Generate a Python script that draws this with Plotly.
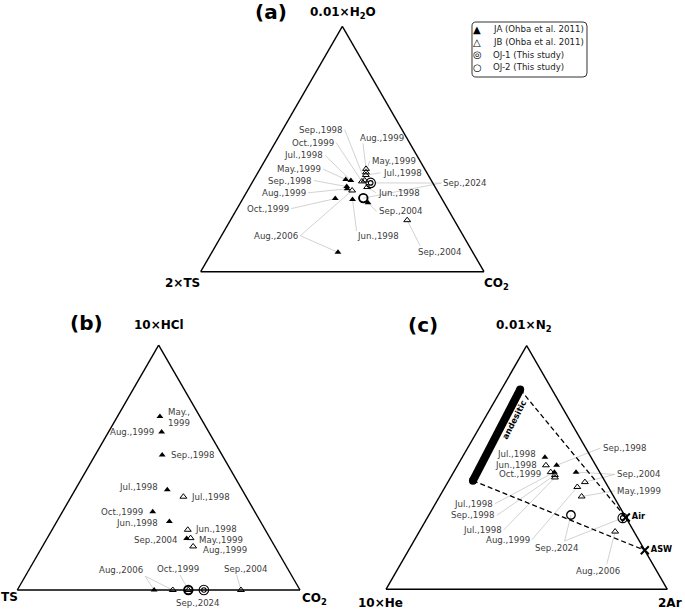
import math
import plotly.graph_objects as go

# ---------------- data: normalised ternary compositions (top, bottom-left, bottom-right) ----------------
# Panel (a): (0.01xH2O, 2xTS, CO2)
JA_A = [(0.376, 0.300, 0.324), (0.372, 0.284, 0.344), (0.347, 0.311, 0.342), (0.338, 0.314, 0.348),
        (0.298, 0.376, 0.326), (0.294, 0.317, 0.389), (0.281, 0.269, 0.450), (0.079, 0.476, 0.445)]
JB_A = [(0.419, 0.207, 0.374), (0.405, 0.214, 0.381), (0.394, 0.220, 0.386), (0.368, 0.247, 0.385),
        (0.372, 0.235, 0.393), (0.345, 0.240, 0.415), (0.331, 0.300, 0.369), (0.210, 0.166, 0.624)]
OJ1_A = [(0.362, 0.219, 0.419)]
OJ2_A = [(0.300, 0.276, 0.424)]

# Panel (b): (10xHCl, 2xTS, CO2)
JA_B = [(0.709, 0.141, 0.150), (0.645, 0.167, 0.188), (0.551, 0.212, 0.237), (0.409, 0.265, 0.326),
        (0.320, 0.361, 0.319), (0.280, 0.322, 0.398), (0.210, 0.296, 0.494), (0.000, 0.516, 0.484)]
JB_B = [(0.381, 0.222, 0.397), (0.246, 0.274, 0.480), (0.212, 0.281, 0.507), (0.178, 0.289, 0.533),
        (0.000, 0.450, 0.550), (0.000, 0.395, 0.605), (0.000, 0.209, 0.791)]
OJ1_B = [(0.000, 0.340, 0.660)]
OJ2_B = [(0.000, 0.395, 0.605)]

# Panel (c): (0.01xN2, 10xHe, 2Ar)
JA_C = [(0.542, 0.164, 0.294), (0.509, 0.139, 0.352), (0.481, 0.161, 0.358), (0.481, 0.084, 0.435)]
JB_C = [(0.509, 0.177, 0.314), (0.481, 0.174, 0.345), (0.469, 0.165, 0.366), (0.459, 0.170, 0.371),
        (0.440, 0.073, 0.487), (0.420, 0.110, 0.470), (0.381, 0.114, 0.505), (0.237, 0.067, 0.696)]
OJ1_C = [(0.293, 0.012, 0.695)]
OJ2_C = [(0.305, 0.190, 0.505)]
AIR = [(0.295, 0.000, 0.705)]
ASW = [(0.160, 0.000, 0.840)]
ANDESITIC = [(0.820, 0.113, 0.067), (0.446, 0.468, 0.086)]

SERIES_NAMES = ["JA (Ohba et al. 2011)", "JB (Ohba et al. 2011)", "OJ-1 (This study)", "OJ-2 (This study)"]
LEGEND_SYMBOLS = ["\u25B2", "\u25B3", "\u25CE", "\u25CB"]

# sample labels: text, targets, offset of text anchor from first target (px), side, leader start
LABELS_A = [
    ("Sep.,1998", [("JB", 4)], -22.0, -50.7, "left", "auto"),
    ("Oct.,1999", [("JB", 3)], -27.7, -38.7, "left", "auto"),
    ("Jul.,1998", [("JA", 1)], -27.7, -25.0, "left", "auto"),
    ("May.,1999", [("JA", 0)], -24.7, -10.3, "left", "auto"),
    ("Sep.,1998", [("JA", 2)], -34.7, -6.0, "left", "auto"),
    ("Aug.,1999", [("JA", 3)], -41.0, 4.0, "left", "auto"),
    ("Oct.,1999", [("JA", 4)], -46.0, 10.0, "left", "auto"),
    ("Aug.,2006", [("JA", 7), ("JB", 6)], -39.7, -16.6, "left", "auto"),
    ("Aug.,1999", [("JB", 0)], -6.0, -30.6, "right", (3, 5)),
    ("May.,1999", [("JB", 1)], 5.7, -11.4, "right", "auto"),
    ("Jul.,1998", [("JB", 2)], 16.7, -2.2, "right", "auto"),
    ("Sep.,2024", [("OJ1", 0), ("OJ2", 0)], 72.6, 0.2, "right", "auto"),
    ("Jun.,1998", [("JB", 5)], 10.7, 5.6, "right", "auto"),
    ("Sep.,2004", [("JA", 6)], 10.7, 8.7, "right", "auto"),
    ("Jun.,1998", [("JA", 5)], 4.0, 36.4, "right", (0, -5)),
    ("Sep.,2004", [("JB", 7)], 11.0, 31.7, "right", (2, -6)),
]
LABELS_B = [
    ("May.,<br>1999", [("JA", 0)], 8.3, 1.0, "right", None),
    ("Aug.,1999", [("JA", 1)], -7.7, 0.0, "left", None),
    ("Sep.,1998", [("JA", 2)], 8.4, 0.0, "right", None),
    ("Jul.,1998", [("JA", 3)], -9.3, -3.0, "left", None),
    ("Jul.,1998", [("JB", 0)], 8.0, 0.0, "right", None),
    ("Oct.,1999", [("JA", 4)], -10.0, 0.7, "left", None),
    ("Jun.,1998", [("JA", 5)], -11.3, 1.7, "left", None),
    ("Jun.,1998", [("JB", 1)], 7.3, -0.3, "right", None),
    ("Sep.,2004", [("JA", 6)], -8.4, 1.7, "left", None),
    ("May.,1999", [("JB", 2)], 8.6, 2.3, "right", None),
    ("Aug.,1999", [("JB", 3)], 10.0, 4.0, "right", None),
    ("Aug.,2006", [("JA", 7), ("JB", 4)], -33.0, -20.5, "center", (24, 6.7)),
    ("Oct.,1999", [("JB", 5)], -10.8, -21.0, "center", (2.5, 6)),
    ("Sep.,2004", [("JB", 6)], 4.8, -21.0, "center", (-9, 6)),
    ("Sep.,2024", [("OJ2", 0)], 9.7, 13.0, "center", None),
]
LABELS_C = [
    ("Jul.,1998", [("JA", 0)], -9.0, -3.7, "left", None),
    ("Jun.,1998", [("JB", 0)], -8.7, -0.7, "left", None),
    ("Oct.,1999", [("JB", 1)], -9.7, 2.3, "left", None),
    ("Sep.,1998", [("JA", 1)], 46.0, -17.3, "right", "auto"),
    ("Sep.,2004", [("JA", 3), ("JB", 4)], 40.7, 2.3, "right", "auto"),
    ("May.,1999", [("JB", 6)], 35.0, -5.7, "right", "auto"),
    ("Jul.,1998", [("JA", 2)], -61.6, 31.7, "left", "auto"),
    ("Sep.,1998", [("JB", 2)], -60.0, 40.3, "left", "auto"),
    ("Jul.,1998", [("JB", 3)], -53.3, 52.5, "left", "auto"),
    ("Aug.,1999", [("JB", 5)], -47.3, 52.7, "left", "auto"),
    ("Sep.,2024", [("OJ2", 0), ("OJ1", 0)], -14.3, 33.0, "center", (8, -7)),
    ("Aug.,2006", [("JB", 7)], -16.7, 39.0, "center", (8.4, -6.7)),
]

# ---------------- layout geometry ----------------
FIG_W, FIG_H = 685, 609
FONT = "DejaVu Sans"
LABEL_COLOR = "#404040"
LEADER_COLOR = "#c6c6c6"
SQ = math.sqrt(3) / 2

PANELS = [
    dict(key="ternary", data=dict(JA=JA_A, JB=JB_A, OJ1=OJ1_A, OJ2=OJ2_A), labels=LABELS_A,
         left=200.7, base=271.7, side=283.3, oj2w=1.9),
    dict(key="ternary2", data=dict(JA=JA_B, JB=JB_B, OJ1=OJ1_B, OJ2=OJ2_B), labels=LABELS_B,
         left=17.3, base=590.0, side=282.7, oj2w=1.9),
    dict(key="ternary3", data=dict(JA=JA_C, JB=JB_C, OJ1=OJ1_C, OJ2=OJ2_C), labels=LABELS_C,
         left=386.0, base=589.3, side=281.3, oj2w=1.3),
]


def cols(points):
    return [p[0] for p in points], [p[1] for p in points], [p[2] for p in points]


def domain(p):
    h = p["side"] * SQ
    cy = p["base"] - h / 2
    pad = 12
    x = [p["left"] / FIG_W, (p["left"] + p["side"]) / FIG_W]
    y = [1 - (cy + h / 2 + pad) / FIG_H, 1 - (cy - h / 2 - pad) / FIG_H]
    return x, y


def tern_px(p, pan):
    """pixel position of a composition inside the panel's ternary subplot (same geometry as its domain)"""
    a, b, c = p
    s = a + b + c
    a, c = a / s, c / s
    return pan["left"] + pan["side"] * (c + a / 2), pan["base"] - pan["side"] * SQ * a


def P(x, y):
    return x / FIG_W, 1 - y / FIG_H


annotations, shapes = [], []


def note(text, x, y, size, xanchor="center", bold=True, color="black", angle=0, align="center"):
    px, py = P(x, y)
    annotations.append(dict(text="<b>%s</b>" % text if bold else text, x=px, y=py, xref="paper", yref="paper",
                            xanchor=xanchor, yanchor="middle", showarrow=False, borderpad=0, borderwidth=0,
                            textangle=angle, align=align, font=dict(family=FONT, size=size, color=color)))


fig = go.Figure()
ANCHOR = {"left": "right", "right": "left", "center": "center"}

for pan in PANELS:
    sub, data = pan["key"], pan["data"]

    # sample labels with leader lines (annotation layer)
    for text, targets, dx, dy, where, lead in pan["labels"]:
        ser0, i0 = targets[0]
        tx, ty = tern_px(data[ser0][i0], pan)
        ax_, ay_ = tx + dx, ty + dy
        note(text, ax_, ay_, 8.6, ANCHOR[where], bold=False, color=LABEL_COLOR, align="left")
        if lead is None:
            continue
        lx, ly = ((2, 0) if where == "left" else (-2, 0)) if lead == "auto" else lead
        x0, y0 = P(ax_ + lx, ay_ + ly)
        for ser, idx in targets:
            x1, y1 = P(*tern_px(data[ser][idx], pan))
            shapes.append(dict(type="line", xref="paper", yref="paper", x0=x0, y0=y0, x1=x1, y1=y1,
                               layer="below", line=dict(color=LEADER_COLOR, width=0.8)))

    if sub == "ternary3":
        da_, db_, dc_ = [], [], []
        for end, ref in ((ANDESITIC[0], AIR[0]), (ANDESITIC[1], ASW[0])):
            da_ += [end[0], ref[0], None]; db_ += [end[1], ref[1], None]; dc_ += [end[2], ref[2], None]
        fig.add_trace(go.Scatterternary(a=da_, b=db_, c=dc_, mode="lines", subplot=sub, showlegend=False,
                                        line=dict(color="black", width=1.3, dash="5px,3px"), hoverinfo="skip"))
        aa, ab, ac = cols(ANDESITIC)
        fig.add_trace(go.Scatterternary(a=aa, b=ab, c=ac, mode="lines+markers", subplot=sub, showlegend=False,
                                        line=dict(color="black", width=8),
                                        marker=dict(symbol="circle", size=8, color="black"),
                                        cliponaxis=False, hoverinfo="skip"))

    a, b, c = cols(data["JA"])
    fig.add_trace(go.Scatterternary(a=a, b=b, c=c, mode="markers", subplot=sub, name=SERIES_NAMES[0],
                                    showlegend=False, cliponaxis=False,
                                    marker=dict(symbol="triangle-up", size=6, color="black")))
    a, b, c = cols(data["JB"])
    fig.add_trace(go.Scatterternary(a=a, b=b, c=c, mode="markers", subplot=sub, name=SERIES_NAMES[1],
                                    showlegend=False, cliponaxis=False,
                                    marker=dict(symbol="triangle-up-open", size=6, color="black",
                                                line=dict(width=1))))
    a, b, c = cols(data["OJ1"])
    for sz in (9.5, 4.5):
        fig.add_trace(go.Scatterternary(a=a, b=b, c=c, mode="markers", subplot=sub, name=SERIES_NAMES[2],
                                        showlegend=False, cliponaxis=False,
                                        marker=dict(symbol="circle-open", size=sz, color="black",
                                                    line=dict(width=1.1))))
    a, b, c = cols(data["OJ2"])
    fig.add_trace(go.Scatterternary(a=a, b=b, c=c, mode="markers", subplot=sub, name=SERIES_NAMES[3],
                                    showlegend=False, cliponaxis=False,
                                    marker=dict(symbol="circle-open", size=8.5, color="black",
                                                line=dict(width=pan["oj2w"]))))

    if sub == "ternary3":
        for ref, name in ((AIR, "Air"), (ASW, "ASW")):
            a, b, c = cols(ref)
            fig.add_trace(go.Scatterternary(a=a, b=b, c=c, mode="markers+text", subplot=sub, showlegend=False,
                                            text=["<b>%s</b>" % name], textposition="middle right",
                                            textfont=dict(family=FONT, size=8.2, color="black"),
                                            cliponaxis=False, hoverinfo="skip",
                                            marker=dict(symbol="x-thin", size=8, color="black",
                                                        line=dict(width=2, color="black"))))

axis = dict(showline=True, linecolor="black", linewidth=1.4, showgrid=False, showticklabels=False,
            ticks="", min=0, title=dict(text=""))
layout_tern = {}
for pan in PANELS:
    dx, dy = domain(pan)
    layout_tern[pan["key"]] = dict(domain=dict(x=dx, y=dy), sum=1, bgcolor="rgba(0,0,0,0)",
                                   aaxis=axis, baxis=axis, caxis=axis)

# panel titles and vertex labels
note("(a)", 271, 12, 20)
note("0.01×H<sub>2</sub>O", 342.5, 12.5, 12)
note("2×TS", 200, 283, 12, "right")
note("CO<sub>2</sub>", 484, 284, 12, "left")
note("(b)", 86.7, 323, 20)
note("10×HCl", 159, 325, 12)
note("TS", 0.5, 597, 12, "left")
note("CO<sub>2</sub>", 301.5, 598.5, 12, "left")
note("(c)", 423.3, 325, 20)
note("0.01×N<sub>2</sub>", 524, 325.5, 12)
note("10×He", 380, 603, 12)
note("2Ar", 682, 603, 12, "right")
note("andesitic", 514, 420, 8.3, angle=-62.7)

# legend (text keys inside a rounded box)
LEG_ROWS = [29.3, 42.3, 54.7, 67.3]
for sym, name, yy in zip(LEGEND_SYMBOLS, SERIES_NAMES, LEG_ROWS):
    note(sym, 477.3, yy, 10, "center", bold=False)
    note(name, 492.5, yy, 8.6, "left", bold=False, color="#222222")


def rounded_rect(x0, y0, x1, y1, r):
    X0, Y0 = P(x0, y0)
    X1, Y1 = P(x1, y1)
    rx, ry = r / FIG_W, r / FIG_H
    return ("M %f,%f L %f,%f Q %f,%f %f,%f L %f,%f Q %f,%f %f,%f L %f,%f Q %f,%f %f,%f L %f,%f Q %f,%f %f,%f Z" % (
        X0 + rx, Y0, X1 - rx, Y0, X1, Y0, X1, Y0 - ry, X1, Y1 + ry, X1, Y1, X1 - rx, Y1,
        X0 + rx, Y1, X0, Y1, X0, Y1 + ry, X0, Y0 - ry, X0, Y0, X0 + rx, Y0))


shapes.append(dict(type="path", xref="paper", yref="paper", path=rounded_rect(472, 22, 587, 77, 4),
                   line=dict(color="#333333", width=1), fillcolor="rgba(0,0,0,0)"))

fig.update_layout(width=FIG_W, height=FIG_H, margin=dict(l=0, r=0, t=0, b=0),
                  paper_bgcolor="white", plot_bgcolor="white", showlegend=False,
                  font=dict(family=FONT), annotations=annotations, shapes=shapes, **layout_tern)

fig.write_html("out.html", config={"displayModeBar": False},
               post_script="document.body.style.margin='0';document.body.style.overflow='hidden';")
